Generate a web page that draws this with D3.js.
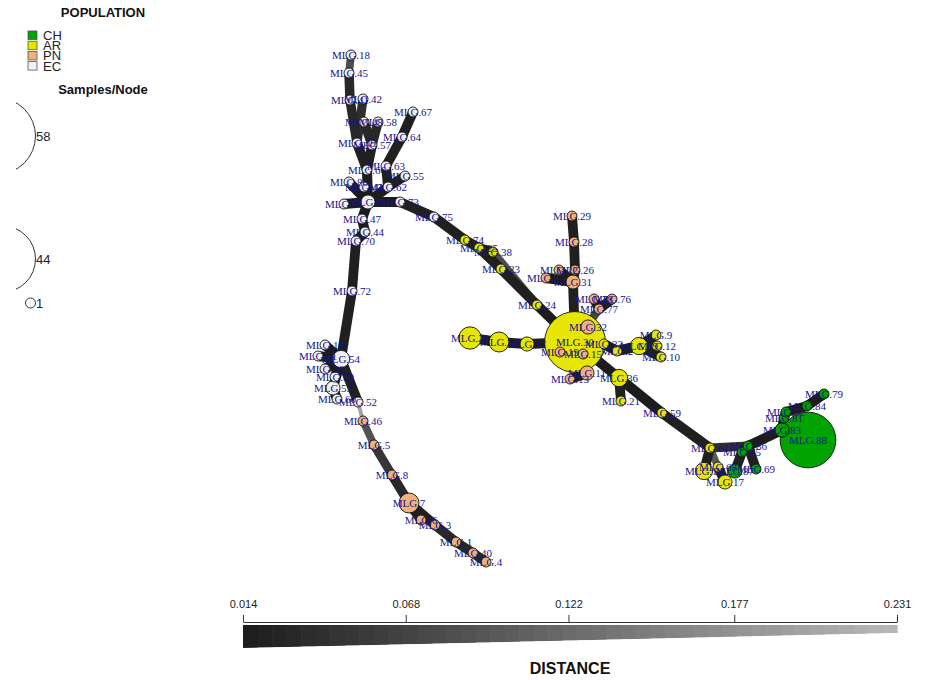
<!DOCTYPE html>
<html>
<head>
<meta charset="utf-8">
<script src="https://cdn.jsdelivr.net/npm/d3@7"></script>
<style>
  body { margin: 0; background: #ffffff; }
  svg { display: block; }
</style>
</head>
<body>
<svg id="chart" width="925" height="680"></svg>
<script>
// ---- Populations ----
const populations = ["CH", "AR", "PN", "EC"];
const popColors = ["#00a300", "#e6e600", "#f0b27a", "#efefef"];

// ---- Multilocus genotypes (nodes) ----
const nodeIds = [
  18, 45, 41, 42, 48, 58, 67, 64, 49, 57, 63, 66, 55, 80, 43, 62, 65, 71, 73, 75,
  47, 44, 70, 72, 54, 16, 51, 56, 50, 53, 60, 52,
  46, 5, 8, 7, 6, 3, 1, 40, 4,
  74, 25, 38, 23, 24, 30, 37, 34, 20,
  32, 77, 78, 76, 31, 27, 22, 26, 28, 29, 19, 15, 11, 13,
  33, 2, 39, 9, 12, 10, 36, 21, 59,
  61, 14, 68, 17, 87, 85, 86, 69, 83, 81, 82, 84, 79, 88
];
const nodePop = [
  "EC","EC","EC","EC","EC","EC","EC","EC","EC","EC","EC","EC","EC","EC","EC","EC","EC","EC","EC","EC",
  "EC","EC","EC","EC","EC","EC","EC","EC","EC","EC","EC","EC",
  "PN","PN","PN","PN","PN","PN","PN","PN","PN",
  "AR","AR","AR","AR","AR","AR","AR","AR","AR",
  "PN","PN","PN","PN","PN","PN","PN","PN","PN","PN","PN","PN","PN","PN",
  "AR","AR","AR","AR","AR","AR","AR","AR","AR",
  "AR","AR","AR","AR","CH","CH","CH","CH","CH","CH","CH","CH","CH","CH"
];
const nodeCount = [
  1, 1, 1, 1, 1, 1, 1, 1, 1, 1, 1, 1, 1, 1, 1, 1, 2, 1, 1, 1,
  1, 1, 1, 1, 3, 1, 1, 1, 1, 2, 1, 1,
  1, 1, 1, 4, 1, 1, 1, 1, 1,
  1, 1, 1, 1, 1, 37, 2, 4, 5,
  2, 1, 1, 1, 2, 1, 1, 1, 1, 1, 1, 1, 2, 1,
  1, 1, 3, 1, 1, 1, 3, 1, 1,
  1, 3, 1, 2, 2, 1, 1, 1, 2, 1, 1, 1, 1, 31
];
// network layout coordinates
const layoutX = [
  351, 349, 350, 363, 364, 378, 413, 402, 357, 372, 386, 367, 405, 349, 364, 388, 368, 344, 400, 434,
  362, 365, 356, 352, 341, 325, 318, 325, 335, 333, 337, 358,
  363, 374, 392, 409, 421, 435, 456, 473, 486,
  465, 479, 493, 501, 537, 575, 527, 499, 470,
  588, 599, 594, 612, 573, 546, 559, 575, 574, 572, 560, 583, 587, 570,
  604, 617, 639, 656, 657, 661, 619, 621, 662,
  710, 704, 718, 725, 735, 742, 748, 756, 782, 784, 786, 807, 824, 808
];
const layoutY = [
  55, 73, 100, 99, 122, 122, 112, 137, 143, 145, 166, 170, 176, 182, 187, 187, 202, 204, 202, 217,
  219, 232, 241, 291, 359, 345, 356, 369, 377, 388, 399, 402,
  421, 445, 475, 503, 520, 525, 542, 553, 562,
  240, 248, 252, 269, 305, 342, 344, 342, 338,
  327, 309, 299, 299, 282, 278, 270, 270, 242, 216, 352, 354, 373, 379,
  344, 351, 346, 335, 346, 357, 378, 401, 413,
  448, 471, 467, 482, 471, 452, 446, 469, 430, 418, 412, 406, 394, 440
];

// ---- Minimum spanning network edges ----
const edgeFrom = [
  18, 45, 41, 42, 49, 48, 58, 57, 66,
  67, 64, 63, 55, 62, 80, 71, 43,
  65, 73, 75, 65, 47, 44, 70, 72,
  54, 54, 54, 54, 54, 53, 54,
  52, 46, 5, 8, 7, 7, 3, 1, 40,
  74, 25, 25, 38, 23, 24,
  30, 37, 34,
  30, 30, 77, 77, 30, 31, 31, 31, 26, 28,
  30, 30, 30, 11,
  30, 33, 2, 39, 39, 39,
  30, 36, 36, 59,
  61, 61, 68, 61, 86, 85, 86, 86, 83, 81, 82, 84, 83
];
const edgeTo = [
  45, 41, 49, 49, 66, 57, 57, 66, 65,
  64, 63, 62, 62, 65, 65, 65, 65,
  73, 75, 74, 47, 44, 70, 72, 54,
  16, 51, 56, 50, 53, 60, 52,
  46, 5, 8, 7, 6, 3, 1, 40, 4,
  25, 23, 38, 24, 24, 30,
  37, 34, 20,
  32, 77, 78, 76, 31, 27, 22, 26, 28, 29,
  19, 15, 11, 13,
  33, 2, 39, 9, 12, 10,
  36, 21, 59, 61,
  14, 68, 17, 86, 85, 87, 69, 83, 81, 82, 84, 79, 88
];
const edgeDist = [
  0.080, 0.030, 0.030, 0.040, 0.020, 0.030, 0.030, 0.020, 0.014,
  0.020, 0.020, 0.020, 0.020, 0.014, 0.014, 0.014, 0.014,
  0.014, 0.020, 0.020, 0.014, 0.014, 0.014, 0.020, 0.020,
  0.014, 0.014, 0.014, 0.014, 0.014, 0.014, 0.020,
  0.200, 0.090, 0.050, 0.030, 0.020, 0.020, 0.030, 0.030, 0.030,
  0.020, 0.020, 0.020, 0.080, 0.020, 0.014,
  0.014, 0.014, 0.014,
  0.014, 0.070, 0.020, 0.020, 0.020, 0.014, 0.014, 0.020, 0.020, 0.020,
  0.014, 0.014, 0.014, 0.014,
  0.014, 0.014, 0.014, 0.020, 0.020, 0.020,
  0.014, 0.020, 0.014, 0.020,
  0.020, 0.100, 0.020, 0.040, 0.014, 0.020, 0.020, 0.014, 0.014, 0.014, 0.014, 0.014, 0.014
];

// ---- Distance colour bar ----
const distanceTicks = [0.014, 0.068, 0.122, 0.177, 0.231];
const distanceTickLabels = ["0.014", "0.068", "0.122", "0.177", "0.231"];

// ---- Node size legend ----
const sizeLegendCounts = [58, 44, 1];

// ================= drawing =================
const svg = d3.select("#chart");
const W = 925, H = 680;
svg.append("rect").attr("width", W).attr("height", H).attr("fill", "#fff");

const popColor = d3.scaleOrdinal().domain(populations).range(popColors);
const radius = d3.scaleSqrt().domain([0, 1]).range([0, 5]);

const distDomain = [distanceTicks[0], distanceTicks[distanceTicks.length - 1]];
const edgeColor = d3.scaleLinear().domain(distDomain).range(["#1c1c1c", "#b9b9b9"]);
const edgeWidth = d3.scaleLinear().domain(distDomain).range([10, 3]);

const x = d3.scaleLinear().domain(d3.extent(layoutX)).range([318, 824]);
const y = d3.scaleLinear().domain(d3.extent(layoutY)).range([55, 562]);

const nodes = nodeIds.map((id, i) => ({
  id, pop: nodePop[i], count: nodeCount[i], lx: layoutX[i], ly: layoutY[i]
}));
const byId = new Map(nodes.map(n => [n.id, n]));
const edges = edgeFrom.map((f, i) => ({ a: byId.get(f), b: byId.get(edgeTo[i]), d: edgeDist[i] }));

const net = svg.append("g");

// edges: lighter (longer) ones underneath
net.append("g").selectAll("line")
  .data(edges.slice().sort((p, q) => q.d - p.d))
  .join("line")
  .attr("x1", e => x(e.a.lx)).attr("y1", e => y(e.a.ly))
  .attr("x2", e => x(e.b.lx)).attr("y2", e => y(e.b.ly))
  .attr("stroke", e => edgeColor(e.d))
  .attr("stroke-width", e => edgeWidth(e.d))
  .attr("stroke-linecap", "butt");

// nodes: biggest first so small genotypes stay visible
net.append("g").selectAll("circle")
  .data(nodes.slice().sort((p, q) => q.count - p.count))
  .join("circle")
  .attr("cx", n => x(n.lx)).attr("cy", n => y(n.ly))
  .attr("r", n => radius(n.count))
  .attr("fill", n => popColor(n.pop))
  .attr("stroke", "#111")
  .attr("stroke-width", 0.9);

// labels
net.append("g").selectAll("text")
  .data(nodes)
  .join("text")
  .attr("x", n => x(n.lx)).attr("y", n => y(n.ly))
  .attr("dy", "0.35em")
  .attr("text-anchor", "middle")
  .attr("font-family", "'Liberation Serif', 'Times New Roman', serif")
  .attr("font-size", 11)
  .attr("fill", "#15158f")
  .text(n => "MLG." + n.id);

// ---- population legend ----
const leg = svg.append("g").attr("font-family", "'Liberation Sans', Arial, sans-serif");
leg.append("text").attr("x", 103).attr("y", 17).attr("text-anchor", "middle")
  .attr("font-size", 13).attr("font-weight", "bold").attr("fill", "#111").text("POPULATION");
const popItems = leg.selectAll("g.pop").data(populations).join("g").attr("class", "pop")
  .attr("transform", (d, i) => `translate(28,${31 + i * 10.2})`);
popItems.append("rect").attr("width", 9).attr("height", 8.5)
  .attr("fill", d => popColor(d)).attr("stroke", "#555").attr("stroke-width", 0.8);
popItems.append("text").attr("x", 15).attr("y", 9).attr("font-size", 13)
  .attr("fill", "#222").text(d => d);

leg.append("text").attr("x", 103).attr("y", 94).attr("text-anchor", "middle")
  .attr("font-size", 13).attr("font-weight", "bold").attr("fill", "#111").text("Samples/Node");

// size key, clipped to the legend panel
svg.append("defs").append("clipPath").attr("id", "sizeClip")
  .append("rect").attr("x", 16).attr("y", 95).attr("width", 180).attr("height", 230);
const sizeY = [136, 259, 303];
const sizeItems = leg.append("g").selectAll("g.size").data(sizeLegendCounts).join("g").attr("class", "size");
sizeItems.append("circle")
  .attr("clip-path", "url(#sizeClip)")
  .attr("cx", d => 35.5 - radius(d)).attr("cy", (d, i) => sizeY[i])
  .attr("r", d => radius(d))
  .attr("fill", "none").attr("stroke", "#333").attr("stroke-width", 1);
sizeItems.append("text").attr("x", 36).attr("y", (d, i) => sizeY[i]).attr("dy", "0.35em")
  .attr("font-size", 13).attr("fill", "#222").text(d => d);

// ---- distance colour bar ----
const bx = d3.scaleLinear().domain(distDomain).range([243, 897]);
const barTop = 625;
const barH = d3.scaleLinear().domain(distDomain).range([23, 8]);
const steps = 45;
const stepW = (bx.range()[1] - bx.range()[0]) / steps;
const stepVals = d3.range(steps).map(i => distDomain[0] + (i + 0.5) / steps * (distDomain[1] - distDomain[0]));
svg.append("g").selectAll("rect").data(stepVals).join("rect")
  .attr("x", (d, i) => bx.range()[0] + i * stepW)
  .attr("y", barTop)
  .attr("width", stepW + 0.6)
  .attr("height", (d, i) => barH(distDomain[0] + i / steps * (distDomain[1] - distDomain[0])))
  .attr("fill", d => edgeColor(d));
// trim the stepped bar into a tapering wedge
svg.append("path")
  .attr("d", `M${bx.range()[0]},${barTop + barH(distDomain[0])} L${bx.range()[1] + 1},${barTop + barH(distDomain[1])} L${bx.range()[1] + 1},${barTop + 26} L${bx.range()[0]},${barTop + 26} Z`)
  .attr("fill", "#fff");

const axis = d3.axisTop(bx).tickValues(distanceTicks)
  .tickFormat((d, i) => distanceTickLabels[i]).tickSize(7).tickSizeOuter(0).tickPadding(7);
const axG = svg.append("g").attr("transform", "translate(0,622)").call(axis);
axG.select(".domain").attr("stroke", "#333");
axG.selectAll(".tick line").attr("stroke", "#333");
axG.selectAll(".tick text").attr("font-family", "'Liberation Sans', Arial, sans-serif")
  .attr("font-size", 11).attr("fill", "#222");

svg.append("text").attr("x", 570).attr("y", 674).attr("text-anchor", "middle")
  .attr("font-family", "'Liberation Sans', Arial, sans-serif")
  .attr("font-size", 16).attr("font-weight", "bold").attr("fill", "#111").text("DISTANCE");
</script>
</body>
</html>
